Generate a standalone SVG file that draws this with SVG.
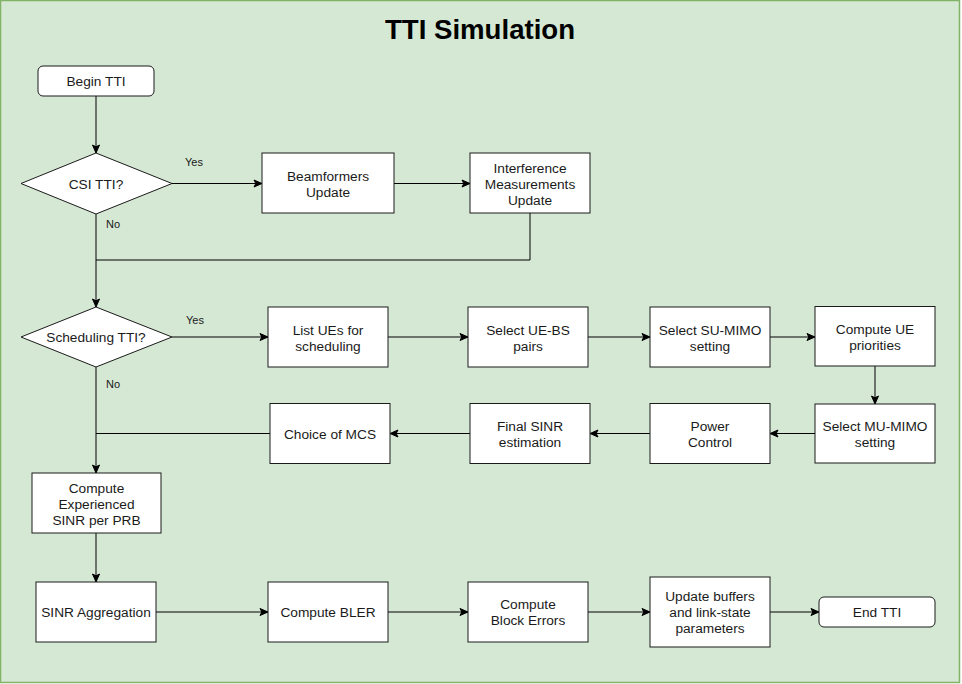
<svg xmlns="http://www.w3.org/2000/svg" width="962" height="684" viewBox="0 0 962 684">
<style>
.box{fill:#ffffff;stroke:#1a1a1a;stroke-width:1}
.t{font-family:"Liberation Sans",Arial,sans-serif;font-size:13.7px;fill:#1a1a1a;text-anchor:middle}
.lbl{font-family:"Liberation Sans",Arial,sans-serif;font-size:11px;fill:#1a1a1a}
.e{fill:none;stroke:#000;stroke-width:1}
.ea{fill:none;stroke:#000;stroke-width:1;marker-end:url(#arr)}
</style>
<defs>
<marker id="arr" markerUnits="userSpaceOnUse" markerWidth="10" markerHeight="10" viewBox="0 0 10 10" refX="9" refY="5" orient="auto">
<path d="M1,1.5 L9,5 L1,8.5 L2.8,5 z" fill="#000" stroke="#000" stroke-width="1"/>
</marker>
</defs>
<rect x="0.5" y="0.5" width="959" height="682" fill="#d5e8d4" stroke="#82b366" stroke-width="1.5"/>
<text x="480" y="39" font-family="'Liberation Sans',Arial,sans-serif" font-size="27.6" font-weight="bold" text-anchor="middle" fill="#000">TTI Simulation</text>

<g id="connectors">
<path class="ea" d="M96,96 L96,153"/>
<path class="ea" d="M172,183.5 L262,183.5"/>
<path class="ea" d="M394,183.5 L470,183.5"/>
<path class="e" d="M530,213 L530,260 L96,260"/>
<path class="ea" d="M96,214 L96,307"/>
<path class="ea" d="M172,337 L268,337"/>
<path class="ea" d="M388,337 L468,337"/>
<path class="ea" d="M588,337 L650,337"/>
<path class="ea" d="M770,337 L815,337"/>
<path class="ea" d="M875,366 L875,404"/>
<path class="ea" d="M815,433.5 L770,433.5"/>
<path class="ea" d="M650,433.5 L590,433.5"/>
<path class="ea" d="M470,433.5 L390,433.5"/>
<path class="e" d="M270,433.5 L96,433.5"/>
<path class="ea" d="M96,367 L96,473"/>
<path class="ea" d="M96,533 L96,582"/>
<path class="ea" d="M156,612 L268,612"/>
<path class="ea" d="M388,612 L468,612"/>
<path class="ea" d="M588,612 L650,612"/>
<path class="ea" d="M770,612 L819,612"/>
<text class="lbl" x="185" y="165.5">Yes</text>
<text class="lbl" x="106" y="228">No</text>
<text class="lbl" x="186" y="323.5">Yes</text>
<text class="lbl" x="106" y="388">No</text>
</g>

<g id="begin">
<rect class="box" x="38" y="66" width="116" height="30" rx="5"/>
<text class="t" x="96" y="86">Begin TTI</text>
</g>
<g id="csi">
<polygon class="box" points="96,153 172,183.5 96,214 21,183.5"/>
<text class="t" x="96" y="188.5">CSI TTI?</text>
</g>
<g id="beamformers">
<rect class="box" x="262" y="153" width="132" height="60"/>
<text class="t" x="328" y="180.5">Beamformers</text>
<text class="t" x="328" y="196.5">Update</text>
</g>
<g id="interference">
<rect class="box" x="470" y="153" width="120" height="60"/>
<text class="t" x="530" y="172.5">Interference</text>
<text class="t" x="530" y="188.5">Measurements</text>
<text class="t" x="530" y="204.5">Update</text>
</g>
<g id="scheduling">
<polygon class="box" points="96,307 172,337 96,367 21,337"/>
<text class="t" x="96" y="342">Scheduling TTI?</text>
</g>
<g id="listues">
<rect class="box" x="268" y="307" width="120" height="60"/>
<text class="t" x="328" y="334.5">List UEs for</text>
<text class="t" x="328" y="350.5">scheduling</text>
</g>
<g id="uebs">
<rect class="box" x="468" y="307" width="120" height="60"/>
<text class="t" x="528" y="334.5">Select UE-BS</text>
<text class="t" x="528" y="350.5">pairs</text>
</g>
<g id="sumimo">
<rect class="box" x="650" y="307" width="120" height="60"/>
<text class="t" x="710" y="334.5">Select SU-MIMO</text>
<text class="t" x="710" y="350.5">setting</text>
</g>
<g id="priorities">
<rect class="box" x="815" y="306.5" width="120" height="59.5"/>
<text class="t" x="875" y="333.5">Compute UE</text>
<text class="t" x="875" y="349.5">priorities</text>
</g>
<g id="mumimo">
<rect class="box" x="815" y="404" width="120" height="59"/>
<text class="t" x="875" y="431">Select MU-MIMO</text>
<text class="t" x="875" y="447">setting</text>
</g>
<g id="power">
<rect class="box" x="650" y="403.5" width="120" height="60"/>
<text class="t" x="710" y="431">Power</text>
<text class="t" x="710" y="447">Control</text>
</g>
<g id="finalsinr">
<rect class="box" x="470" y="403.5" width="120" height="60"/>
<text class="t" x="530" y="431">Final SINR</text>
<text class="t" x="530" y="447">estimation</text>
</g>
<g id="mcs">
<rect class="box" x="270" y="403.5" width="120" height="60"/>
<text class="t" x="330" y="439">Choice of MCS</text>
</g>
<g id="experienced">
<rect class="box" x="32" y="473" width="129" height="60"/>
<text class="t" x="96.5" y="492.5">Compute</text>
<text class="t" x="96.5" y="508.5">Experienced</text>
<text class="t" x="96.5" y="524.5">SINR per PRB</text>
</g>
<g id="aggregation">
<rect class="box" x="36" y="582" width="120" height="60"/>
<text class="t" x="96" y="617">SINR Aggregation</text>
</g>
<g id="bler">
<rect class="box" x="268" y="582" width="120" height="60"/>
<text class="t" x="328" y="617">Compute BLER</text>
</g>
<g id="blockerrors">
<rect class="box" x="468" y="582" width="120" height="60"/>
<text class="t" x="528" y="609">Compute</text>
<text class="t" x="528" y="625">Block Errors</text>
</g>
<g id="buffers">
<rect class="box" x="650" y="577" width="120" height="70"/>
<text class="t" x="710" y="601">Update buffers</text>
<text class="t" x="710" y="617">and link-state</text>
<text class="t" x="710" y="633">parameters</text>
</g>
<g id="end">
<rect class="box" x="819" y="597" width="116" height="30" rx="5"/>
<text class="t" x="877" y="617">End TTI</text>
</g>
</svg>
